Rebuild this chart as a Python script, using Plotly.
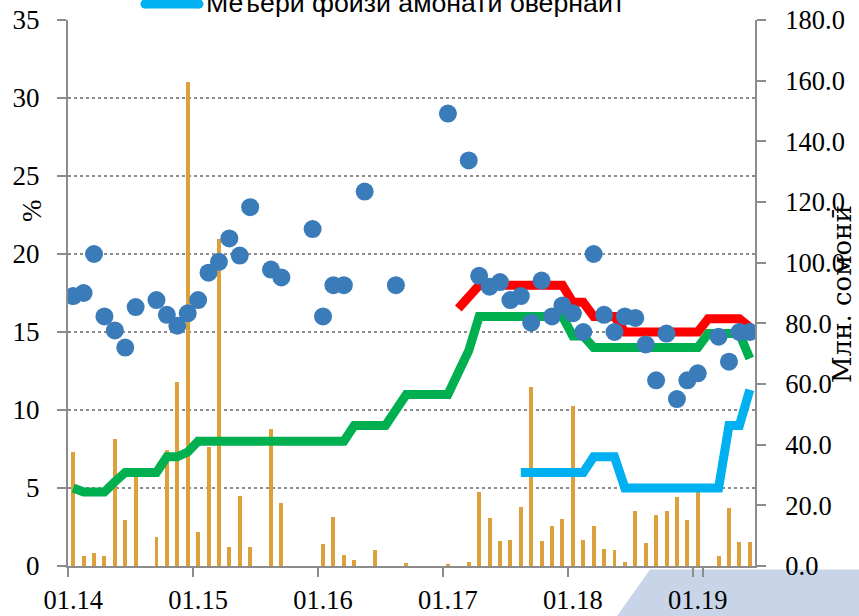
import plotly.graph_objects as go

# ---- data -------------------------------------------------------------
months = [f"{m:02d}.{y:02d}" for y in range(14, 20) for m in range(1, 13)][:66]
year_ticks = ["01.14", "01.15", "01.16", "01.17", "01.18", "01.19"]

# volume, mln somoni (right axis)
volume = [37.7, 3.4, 4.2, 3.3, 41.8, 15.2, 32.2, 0, 9.7, 38.1, 60.6, 159.7,
          11.1, 39.1, 107.8, 6.3, 23.2, 6.3, 0, 45.2, 20.7, 0, 0, 0,
          7.3, 16.3, 3.7, 1.9, 0, 5.3, 0, 0, 1.0, 0, 0, 0,
          0.55, 0, 1.2, 24.4, 15.7, 8.4, 8.7, 19.6, 59.1, 8.4, 13.2, 15.4,
          52.9, 8.7, 13.2, 5.7, 5.4, 1.2, 18.0, 7.5, 16.8, 18.1, 22.7, 15.2,
          25.0, 0, 3.4, 19.1, 8.0, 8.0]

# interbank rate, % (left axis)
interbank = [17.3, 17.5, 20.0, 16.0, 15.1, 14.0, 16.6, None, 17.05, 16.1, 15.4, 16.2,
             17.05, 18.8, 19.5, 21.0, 19.9, 23.0, None, 19.0, 18.5, None, None, 21.6,
             16.0, 18.0, 18.0, None, 24.0, None, None, 18.0, None, None, None, None,
             29.0, None, 26.0, 18.6, 17.9, 18.2, 17.05, 17.3, 15.6, 18.3, 16.0, 16.7,
             16.2, 15.0, 20.0, 16.1, 15.0, 16.0, 15.9, 14.2, 11.9, 14.9, 10.7, 11.9,
             12.35, None, 14.7, 13.1, 15.0, 15.0]

# refinancing rate, %
refinancing = [5.0, 4.75, 4.75, 4.75, 5.4, 6.0, 6.0, 6.0, 6.0, 7.0, 7.0, 7.3,
               8.0, 8.0, 8.0, 8.0, 8.0, 8.0, 8.0, 8.0, 8.0, 8.0, 8.0, 8.0,
               8.0, 8.0, 8.0, 9.0, 9.0, 9.0, 9.0, 10.0, 11.0, 11.0, 11.0, 11.0,
               11.0, 12.4, 13.8, 16.0, 16.0, 16.0, 16.0, 16.0, 16.0, 16.0, 16.0, 16.0,
               14.75, 14.75, 14.0, 14.0, 14.0, 14.0, 14.0, 14.0, 14.0, 14.0, 14.0, 14.0,
               14.0, 14.9, 14.9, 14.9, 14.9, 13.3]

# upper corridor rate, %
upper = [None, None, None, None, None, None, None, None, None, None, None, None,
         None, None, None, None, None, None, None, None, None, None, None, None,
         None, None, None, None, None, None, None, None, None, None, None, None,
         None, 16.5, 17.3, 18.0, 18.0, 18.0, 18.0, 18.0, 18.0, 18.0, 18.0, 18.0,
         16.9, 16.9, 16.0, 16.0, 16.0, 15.0, 15.0, 15.0, 15.0, 15.0, 15.0, 15.0,
         15.0, 15.85, 15.85, 15.85, 15.85, 15.3]

# overnight deposit rate, %
overnight = [None, None, None, None, None, None, None, None, None, None, None, None,
             None, None, None, None, None, None, None, None, None, None, None, None,
             None, None, None, None, None, None, None, None, None, None, None, None,
             None, None, None, None, None, None, None, 6.0, 6.0, 6.0, 6.0, 6.0,
             6.0, 6.0, 7.0, 7.0, 7.0, 5.0, 5.0, 5.0, 5.0, 5.0, 5.0, 5.0,
             5.0, 5.0, 5.0, 9.0, 9.0, 11.3]

legend_label = "Меъёри фоизи амонати овернайт"

# ---- figure -----------------------------------------------------------
W, H = 859, 616
L, R, T, B = 68, 104, 20, 50
PW, PH = W - L - R, H - T - B

def px(xp):
    return (xp - L) / PW

def py(yp):
    return (H - B - yp) / PH

AX = "#8C8C8C"
SERIF = "Liberation Serif"

fig = go.Figure()
fig.add_trace(go.Bar(x=months, y=volume, yaxis="y", marker=dict(color="#DCA13B", line=dict(width=0)),
                     width=0.38, showlegend=False))
fig.add_trace(go.Scatter(x=months, y=refinancing, yaxis="y2", mode="lines",
                         line=dict(color="#00B050", width=9), showlegend=False))
fig.add_trace(go.Scatter(x=months, y=upper, yaxis="y2", mode="lines",
                         line=dict(color="#FF0000", width=9), showlegend=False))
fig.add_trace(go.Scatter(x=months, y=overnight, yaxis="y2", mode="lines", name=legend_label,
                         line=dict(color="#00B0F0", width=9), showlegend=False))
fig.add_trace(go.Scatter(x=months, y=interbank, yaxis="y2", mode="markers",
                         marker=dict(color="#3A7CBA", size=18, line=dict(width=0)), showlegend=False))

fig.update_layout(
    width=W, height=H,
    margin=dict(l=L, r=R, t=T, b=B, autoexpand=False),
    paper_bgcolor="white", plot_bgcolor="white",
    bargap=0,
    xaxis=dict(type="category", categoryorder="array", categoryarray=months,
               range=[-0.5, 65.5], tickmode="array", tickvals=year_ticks, ticktext=year_ticks,
               tickson="boundaries", ticks="outside", ticklen=9, tickwidth=2, tickcolor=AX,
               tickangle=0, ticklabelstandoff=9,
               showline=True, linecolor=AX, linewidth=2, showgrid=False, zeroline=False,
               tickfont=dict(family=SERIF, size=26.5, color="black")),
    yaxis=dict(side="right", range=[0, 180], tickmode="array",
               tickvals=[0, 20, 40, 60, 80, 100, 120, 140, 160, 180], tickformat=".1f",
               ticks="outside", ticklen=9, tickwidth=2, tickcolor=AX,
               showline=True, linecolor=AX, linewidth=2, showgrid=False, zeroline=False,
               ticklabelstandoff=14,
               tickfont=dict(family=SERIF, size=26.5, color="black")),
    yaxis2=dict(overlaying="y", side="left", range=[0, 35], tickmode="array",
                tickvals=[0, 5, 10, 15, 20, 25, 30, 35],
                ticks="outside", ticklen=9, tickwidth=2, tickcolor=AX,
                showline=True, linecolor=AX, linewidth=2, zeroline=False,
                showgrid=True, gridcolor=AX, gridwidth=1.5, griddash="dot",
                ticklabelstandoff=12,
                tickfont=dict(family=SERIF, size=27, color="black")),
    shapes=[
        dict(type="path", xref="paper", yref="paper", layer="below",
             path=f"M {px(617)} {py(616)} L {px(650)} {py(569.5)} L {px(859)} {py(569.5)} L {px(859)} {py(616)} Z",
             fillcolor="#C8D4E7", line=dict(width=0)),
        dict(type="line", xref="paper", yref="paper", x0=px(145), x1=px(199), y0=py(4), y1=py(4),
             line=dict(color="#00B0F0", width=9)),
        dict(type="circle", xref="paper", yref="paper", x0=px(140.5), x1=px(149.5), y0=py(8.5), y1=py(-0.5),
             fillcolor="#00B0F0", line=dict(width=0)),
        dict(type="circle", xref="paper", yref="paper", x0=px(194.5), x1=px(203.5), y0=py(8.5), y1=py(-0.5),
             fillcolor="#00B0F0", line=dict(width=0)),
    ],
    annotations=[
        dict(text="%", xref="paper", yref="paper", x=px(32), y=py(211), xanchor="center", yanchor="middle",
             showarrow=False, textangle=-90,
             font=dict(family=SERIF, size=27, color="black")),
        dict(text="Млн. сомонӣ", xref="paper", yref="paper", x=px(842), y=py(294),
             xanchor="center", yanchor="middle", showarrow=False,
             textangle=-90, font=dict(family="DejaVu Serif", size=26, color="black")),
        dict(text=legend_label, xref="paper", yref="paper", x=px(204), y=py(20), xanchor="left",
             yanchor="bottom", showarrow=False,
             font=dict(family="Liberation Sans", size=26.7, color="black")),
    ],
)

fig.write_html("out.html", config={"displayModeBar": False},
               post_script="document.body.style.margin='0';document.body.style.padding='0';")
